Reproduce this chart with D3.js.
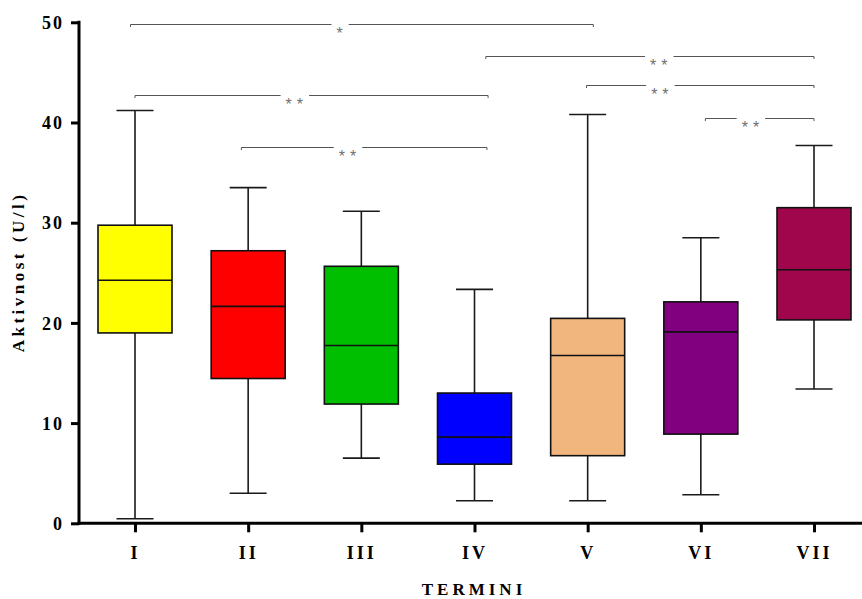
<!DOCTYPE html>
<html>
<head>
<meta charset="utf-8">
<script src="https://cdn.jsdelivr.net/npm/d3@7"></script>
<style>
  html, body { margin: 0; padding: 0; background: #fff; }
  svg { display: block; }
  text { font-family: "Liberation Serif", "Times New Roman", serif; font-weight: bold; }
</style>
</head>
<body>
<svg id="chart" width="862" height="599"></svg>
<script>
// Sampling terms and their box-plot summaries (U/l)
const terms   = ["I", "II", "III", "IV", "V", "VI", "VII"];
const minVals = [0.45, 3.0, 6.5, 2.25, 2.25, 2.85, 13.4];
const q1Vals  = [19.0, 14.45, 11.9, 5.9, 6.75, 8.9, 20.3];
const medVals = [24.25, 21.65, 17.75, 8.6, 16.75, 19.1, 25.3];
const q3Vals  = [29.75, 27.2, 25.65, 13.0, 20.45, 22.1, 31.5];
const maxVals = [41.2, 33.5, 31.15, 23.35, 40.8, 28.5, 37.7];
const fills   = ["#FFFF00", "#FF0000", "#00BF00", "#0000FF", "#F1B67E", "#800080", "#A0064B"];

const yTicks = [0, 10, 20, 30, 40, 50];

// Significance brackets: ends and label position in term-index units, height in U/l
const sigFrom  = [-0.04, 3.10, 0.00, 3.99, 5.04, 0.94];
const sigTo    = [4.05, 6.00, 3.12, 6.00, 6.00, 3.11];
const sigLevel = [49.8, 46.6, 42.7, 43.7, 40.4, 37.6];
const sigLabelAt = [1.83, 4.65, 1.43, 4.66, 5.46, 1.90];
const sigText  = ["*", "**", "**", "**", "**", "**"];

const svg = d3.select("#chart");
const W = 862;

const x = d3.scaleLinear().domain([0, 6]).range([135, 814]);
const y = d3.scaleLinear().domain([0, 50]).range([523.3, 22.3]);

const boxW = 74, capW = 37;

const data = terms.map((t, i) => ({
  t, i, min: minVals[i], q1: q1Vals[i], med: medVals[i], q3: q3Vals[i], max: maxVals[i], fill: fills[i]
}));

// Whiskers and caps
const wg = svg.append("g").attr("stroke", "#1a1a1a").attr("stroke-width", 1.6);
data.forEach(d => {
  const cx = x(d.i);
  wg.append("line").attr("x1", cx).attr("x2", cx).attr("y1", y(d.max)).attr("y2", y(d.q3));
  wg.append("line").attr("x1", cx).attr("x2", cx).attr("y1", y(d.q1)).attr("y2", y(d.min));
  wg.append("line").attr("x1", cx - capW / 2).attr("x2", cx + capW / 2).attr("y1", y(d.max)).attr("y2", y(d.max));
  wg.append("line").attr("x1", cx - capW / 2).attr("x2", cx + capW / 2).attr("y1", y(d.min)).attr("y2", y(d.min));
});

// Boxes with median lines
const bg = svg.append("g");
data.forEach(d => {
  const cx = x(d.i);
  bg.append("rect")
    .attr("x", cx - boxW / 2).attr("width", boxW)
    .attr("y", y(d.q3)).attr("height", y(d.q1) - y(d.q3))
    .attr("fill", d.fill).attr("stroke", "#111").attr("stroke-width", 1.6);
  bg.append("line")
    .attr("x1", cx - boxW / 2).attr("x2", cx + boxW / 2)
    .attr("y1", y(d.med)).attr("y2", y(d.med))
    .attr("stroke", "#111").attr("stroke-width", 1.6);
});

// Significance brackets
const sg = svg.append("g");
sigText.forEach((label, k) => {
  const x1 = x(sigFrom[k]), x2 = x(sigTo[k]), ly = Math.round(y(sigLevel[k])) + 0.5;
  const lx = x(sigLabelAt[k]);
  const txt = sg.append("text")
    .attr("x", lx).attr("y", ly + 14.5)
    .attr("text-anchor", "middle")
    .attr("fill", "#707070")
    .style("font-family", "'Liberation Sans', Arial, sans-serif")
    .style("font-weight", "normal")
    .style("font-size", "16px")
    .style("letter-spacing", "5px")
    .text(label);
  const bb = txt.node().getBBox();
  const gapL = bb.x - 5, gapR = bb.x + bb.width + 1;
  const path = d3.path();
  path.moveTo(x1, ly + 2.5); path.lineTo(x1, ly); path.lineTo(gapL, ly);
  path.moveTo(gapR, ly); path.lineTo(x2, ly); path.lineTo(x2, ly + 2.5);
  sg.append("path").attr("d", path.toString())
    .attr("fill", "none").attr("stroke", "#555").attr("stroke-width", 1);
});

// Y axis
const yAxis = d3.axisLeft(y).tickValues(yTicks).tickSize(8).tickPadding(7).tickFormat(d3.format("d"));
const yg = svg.append("g").attr("transform", "translate(79,0)").call(yAxis);
yg.select(".domain").remove();
yg.selectAll(".tick line").attr("stroke", "#000").attr("stroke-width", 3);
yg.selectAll(".tick text")
  .attr("fill", "#000")
  .style("font-size", "18px")
  .style("letter-spacing", "2px")
  .attr("dy", "0.34em");
svg.append("line").attr("x1", 79).attr("x2", 79).attr("y1", y(50) - 1.5).attr("y2", y(0) + 1.5)
  .attr("stroke", "#000").attr("stroke-width", 3);

// X axis
const xAxis = d3.axisBottom(x).tickValues(d3.range(terms.length)).tickSize(9).tickPadding(14)
  .tickFormat(i => terms[i]);
const xg = svg.append("g").attr("transform", `translate(0,${y(0)})`).call(xAxis);
xg.select(".domain").remove();
xg.selectAll(".tick line").attr("stroke", "#000").attr("stroke-width", 3);
xg.selectAll(".tick text")
  .attr("fill", "#000")
  .style("font-size", "18px")
  .style("letter-spacing", "3px");
svg.append("line").attr("x1", 77.5).attr("x2", W).attr("y1", y(0)).attr("y2", y(0))
  .attr("stroke", "#000").attr("stroke-width", 3);

// Axis titles
svg.append("text")
  .attr("x", 474).attr("y", 595)
  .attr("text-anchor", "middle")
  .style("font-size", "17px")
  .style("letter-spacing", "4px")
  .text("TERMINI");

svg.append("text")
  .attr("transform", "translate(24,272) rotate(-90)")
  .attr("text-anchor", "middle")
  .style("font-size", "17px")
  .style("letter-spacing", "3.5px")
  .text("Aktivnost (U/l)");
</script>
</body>
</html>
